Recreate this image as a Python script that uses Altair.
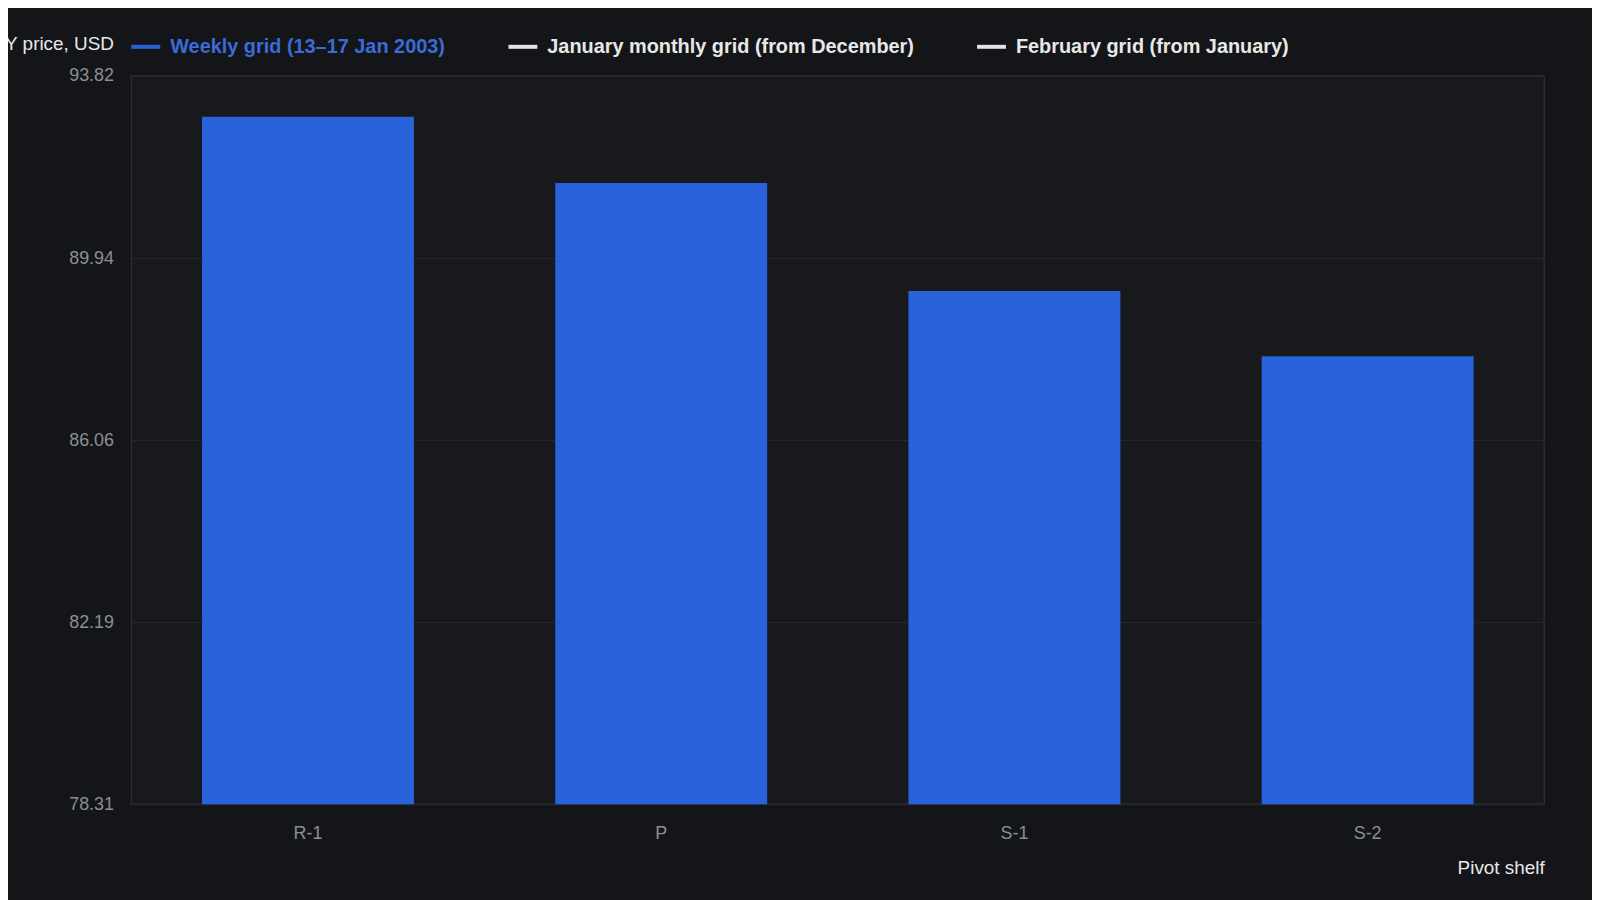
import pandas as pd
import altair as alt

# values
shelves = ["R-1", "P", "S-1", "S-2"]
weekly_price = [92.95, 91.54, 89.24, 87.85]

series_names = [
    "Weekly grid (13\u201317 Jan 2003)",
    "January monthly grid (from December)",
    "February grid (from January)",
]
series_colors = ["#2a62dc", "#e4e4e0", "#e4e4e0"]
y_ticks = [78.31, 82.19, 86.06, 89.94, 93.82]

bars = pd.DataFrame({
    "shelf": shelves,
    "price": weekly_price,
    "series": series_names[0],
})

color_scale = alt.Scale(domain=series_names, range=series_colors)
legend = alt.Legend(
    title=None,
    orient="none",
    legendX=-2,
    legendY=-46,
    direction="horizontal",
    symbolType="stroke",
    symbolSize=841,
    symbolStrokeWidth=4,
    labelFontSize=20,
    labelFontWeight="bold",
    labelFont="Liberation Sans",
    labelOffset=8,
    columnPadding=55,
    labelLimit=600,
    labelColor=alt.expr(f"datum.label == '{series_names[0]}' ? '#3b6bd9' : '#e8e8e8'"),
)

chart = alt.Chart(bars).mark_bar(strokeWidth=0, clip=True).encode(
    x=alt.X("shelf:N", sort=shelves, title="Pivot shelf",
            scale=alt.Scale(paddingInner=0.4, paddingOuter=0.2),
            axis=alt.Axis(labelAngle=0, labelPadding=20, ticks=False, domain=False,
                          titleAnchor="end", titleAlign="right", titlePadding=17,
                          titleX=1420, titleFontWeight="normal")),
    y=alt.Y("price:Q", title="SPY price, USD",
            scale=alt.Scale(domain=[y_ticks[0], y_ticks[-1]], zero=False, nice=False),
            axis=alt.Axis(values=y_ticks, format=".2f", ticks=False, domain=False,
                          labelPadding=18, titleAngle=0, titleAlign="right",
                          titleBaseline="middle", titleX=-18, titleY=-33,
                          titleFontWeight="normal")),
    color=alt.Color("series:N", scale=color_scale, legend=legend),
    stroke=alt.Stroke("series:N", scale=color_scale, legend=legend),
).properties(
    width=1420,
    height=732,
    autosize=alt.AutoSizeParams(type="none"),
    padding={"left": 124, "top": 66, "right": 48, "bottom": 94},
).configure(
    background="#141518",
    font="Liberation Sans",
).configure_view(
    fill="#18191c",
    stroke="#2a2c30",
    strokeWidth=1.5,
).configure_axis(
    labelColor="#8c8f95",
    labelFontSize=18,
    titleColor="#e8e8e8",
    titleFontSize=19,
    gridColor="#26282c",
    gridWidth=1,
).configure_axisX(
    grid=False,
)

chart.save("out.html", embed_options={"renderer": "svg", "actions": False})
